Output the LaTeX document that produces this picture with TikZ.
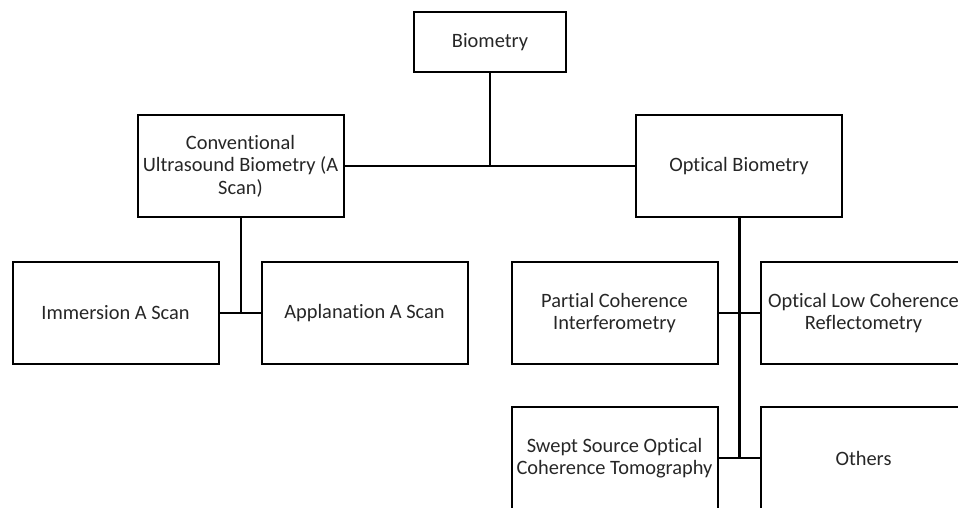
\documentclass[tikz,border=0pt]{standalone}
\usepackage{fontspec}
\setmainfont[Ligatures=NoCommon]{Carlito}
\usepackage{tikz}
\usetikzlibrary{positioning, calc}

\tikzset{
  catbox/.style={draw, line width=1pt, align=center, font=\fontsize{10.2}{11.2}\selectfont,
    text=black!85, minimum width=103pt, minimum height=51pt, inner sep=1pt},
  link/.style={line width=1pt},
  trunk/.style={line width=1.5pt}
}

\begin{document}
\begin{tikzpicture}[x=0.5pt, y=-0.5pt]
\useasboundingbox (0,0) rectangle (958,508);
\clip (0,0) rectangle (958,508);

% Root
\node[catbox, minimum width=76pt, minimum height=30pt] (bio) at (490,42) {Biometry};

% Main branches
\node[catbox] (conv) at (240.5,166) {Conventional\\Ultrasound Biometry (A\\Scan)};
\node[catbox] (opt) at (739,166) {Optical Biometry};

% Ultrasound methods
\node[catbox] (imm) at (115.5,313) {Immersion A Scan};
\node[catbox] (app) at (364.5,313) {Applanation A Scan};

% Optical methods
\node[catbox] (pci) at (614.5,313) {Partial Coherence\\Interferometry};
\node[catbox] (olcr) at (863.5,313) {Optical Low Coherence\\Reflectometry};
\node[catbox] (ss) at (614.5,458) {Swept Source Optical\\Coherence Tomography};
\node[catbox] (oth) at (863.5,458) {Others};

% Connectors
\draw[link] (conv.east) -- (opt.west);
\draw[link] (bio.south) -- (bio.south |- conv.east);
\draw[link] (conv.south) -- (conv.south |- imm.east);
\draw[link] (imm.east) -- (app.west);
\draw[trunk] (opt.south) -- (opt.south |- ss.east);
\draw[link] (pci.east) -- (olcr.west);
\draw[link] (ss.east) -- (oth.west);

\end{tikzpicture}
\end{document}
